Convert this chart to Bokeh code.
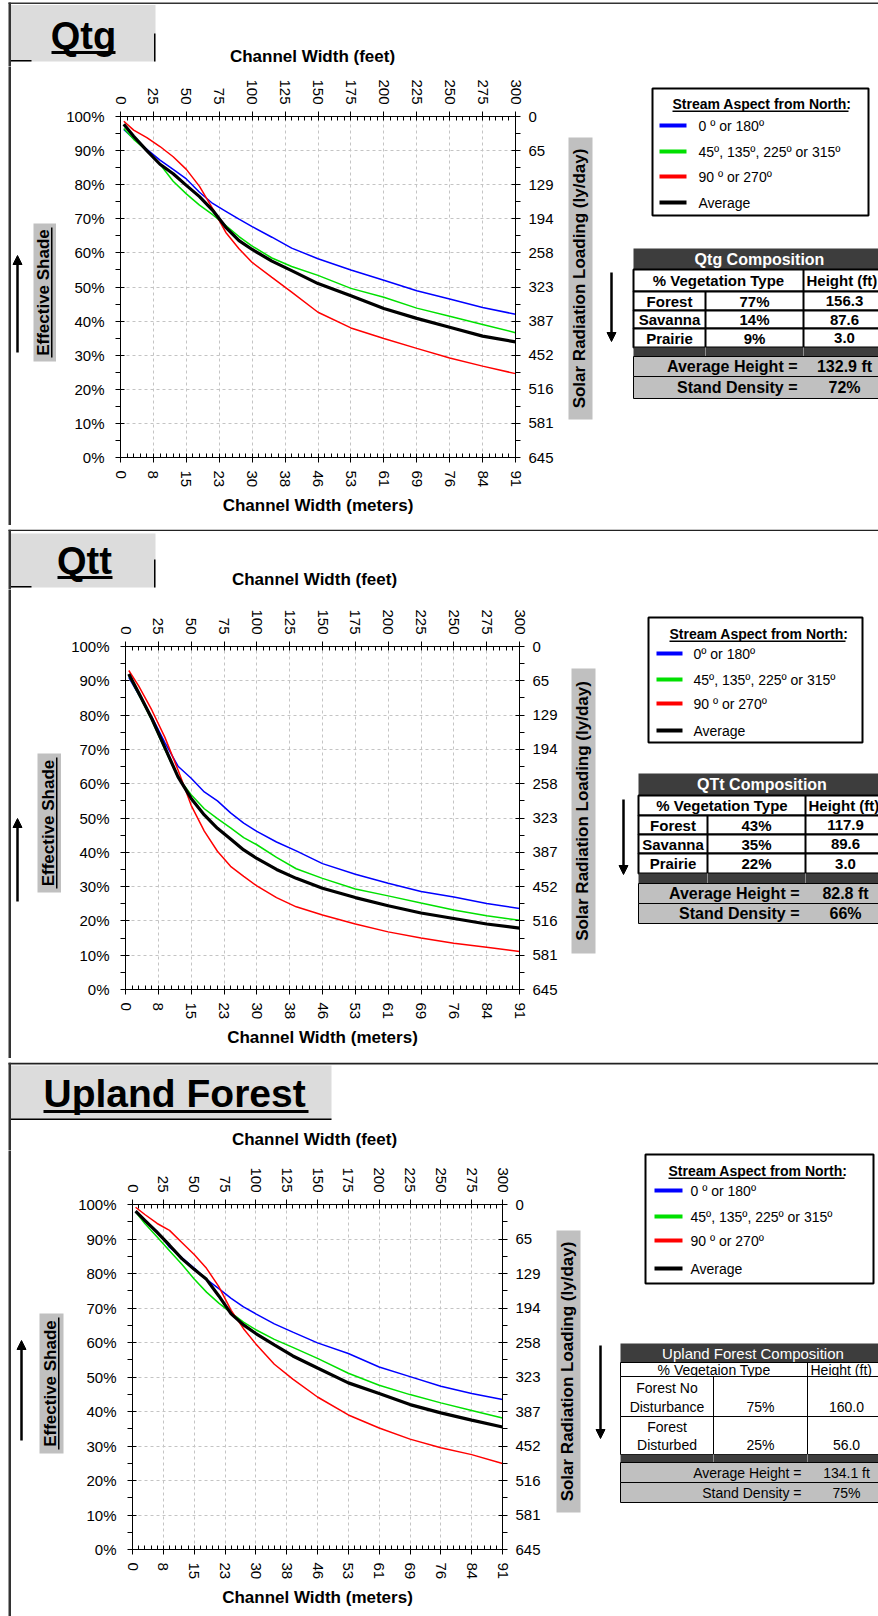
import math

from bokeh.core.properties import value
from bokeh.embed import file_html
from bokeh.layouts import column, row
from bokeh.models import (Arrow, FixedTicker, Grid, LinearAxis, NormalHead,
                          PrintfTickFormatter, Range1d)
from bokeh.plotting import figure
from bokeh.resources import INLINE

FONT = "Liberation Sans"
PAGE_W = 878

# ---------------------------------------------------------------- axes
feet_ticks = [0, 25, 50, 75, 100, 125, 150, 175, 200, 225, 250, 275, 300]
feet_minor = [f for f in range(0, 301, 5) if f % 25]
meter_labels = ["0", "8", "15", "23", "30", "38", "46", "53", "61", "69", "76", "84", "91"]
shade_ticks = [0, 10, 20, 30, 40, 50, 60, 70, 80, 90, 100]
shade_minor = [5, 15, 25, 35, 45, 55, 65, 75, 85, 95]
solar_labels = ["645", "581", "516", "452", "387", "323", "258", "194", "129", "65", "0"]

# ---------------------------------------------------------------- effective shade curves (%)
width_ft = [2.5, 10, 20, 30, 40, 50, 60, 70, 80, 90, 100, 115, 130, 150, 175, 200, 225, 250, 275, 300]

qtg_ns = [96.2, 93.5, 90.4, 87.2, 84.5, 81.7, 77.8, 74.5, 72.2, 69.9, 67.7, 64.6, 61.4, 58.3, 55.0, 52.0, 48.9, 46.5, 44.0, 42.0]
qtg_diag = [96.5, 93.3, 90.0, 86.0, 81.0, 77.3, 74.0, 71.2, 68.0, 64.8, 62.0, 58.5, 56.0, 53.4, 49.6, 47.0, 43.8, 41.4, 39.0, 36.6]
qtg_ew = [98.6, 96.0, 93.8, 91.2, 88.2, 84.5, 79.5, 73.0, 66.0, 61.2, 57.2, 52.8, 48.5, 42.6, 38.0, 34.9, 32.0, 29.2, 26.8, 24.6]
qtg_avg = [97.7, 94.2, 90.0, 86.0, 83.2, 79.8, 76.5, 72.5, 67.5, 63.6, 61.0, 57.6, 54.8, 51.0, 47.4, 43.7, 40.8, 38.2, 35.6, 33.9]

qtt_ns = [91.0, 86.0, 79.5, 72.0, 65.1, 61.6, 57.6, 55.0, 51.5, 48.5, 46.1, 43.0, 40.4, 36.7, 33.6, 31.0, 28.6, 27.0, 25.1, 23.6]
qtt_diag = [91.5, 86.0, 78.5, 70.0, 61.8, 56.8, 52.7, 49.8, 47.1, 44.3, 42.2, 38.5, 35.2, 32.4, 29.3, 27.3, 25.2, 23.2, 21.5, 20.2]
qtt_ew = [93.0, 88.5, 81.5, 73.5, 64.0, 53.7, 46.2, 40.3, 35.9, 33.0, 30.2, 26.8, 24.1, 21.7, 19.1, 16.8, 15.0, 13.5, 12.3, 11.1]
qtt_avg = [92.0, 86.5, 79.0, 70.5, 62.0, 55.7, 50.9, 47.0, 43.9, 40.7, 38.2, 35.0, 32.4, 29.5, 26.8, 24.4, 22.3, 20.7, 19.1, 17.9]

upl_ns = [97.8, 95.5, 92.2, 87.6, 84.6, 81.6, 78.3, 75.6, 72.8, 70.3, 68.3, 65.4, 63.0, 59.9, 56.8, 52.9, 50.1, 47.3, 45.2, 43.5]
upl_diag = [97.8, 94.5, 90.6, 86.6, 82.7, 78.4, 74.6, 71.4, 68.6, 65.9, 63.7, 60.9, 58.6, 55.4, 51.1, 47.6, 44.9, 42.5, 40.3, 38.1]
upl_ew = [99.2, 97.1, 94.5, 92.5, 89.0, 85.5, 81.5, 76.2, 69.3, 64.0, 59.6, 53.7, 49.4, 44.2, 39.0, 35.2, 32.0, 29.5, 27.5, 24.9]
upl_avg = [98.1, 95.4, 91.9, 88.2, 84.3, 81.2, 78.3, 73.5, 68.3, 65.1, 62.6, 59.3, 56.1, 52.6, 48.3, 45.2, 42.0, 39.6, 37.5, 35.5]

series_colors = ["#0000FF", "#00E000", "#FF0000", "#000000"]

# ---------------------------------------------------------------- legend and composition tables
legend_title = "Stream Aspect from North:"
qtg_legend = ["0 º or 180º", "45º, 135º, 225º or 315º", "90 º or 270º", "Average"]
qtt_legend = ["0º or 180º", "45º, 135º, 225º or 315º", "90 º or 270º", "Average"]
upl_legend = ["0 º or 180º", "45º, 135º, 225º or 315º", "90 º or 270º", "Average"]

qtg_types = ["Forest", "Savanna", "Prairie"]
qtg_pct = ["77%", "14%", "9%"]
qtg_height = ["156.3", "87.6", "3.0"]
qtg_avg_height = "132.9 ft"
qtg_density = "72%"

qtt_types = ["Forest", "Savanna", "Prairie"]
qtt_pct = ["43%", "35%", "22%"]
qtt_height = ["117.9", "89.6", "3.0"]
qtt_avg_height = "82.8 ft"
qtt_density = "66%"

upl_types = [("Forest No", "Disturbance"), ("Forest", "Disturbed")]
upl_pct = ["75%", "25%"]
upl_height = ["160.0", "56.0"]
upl_avg_height = "134.1 ft"
upl_density = "75%"


# ---------------------------------------------------------------- decoration sheets
class Panel:
    """A page band made of plain pixel-space sheets around one chart."""

    def __init__(self):
        self.sheets = []

    def sheet(self, x0, y0, x1, y1):
        p = figure(width=x1 - x0, height=y1 - y0, title=None,
                   x_range=Range1d(x0, x1), y_range=Range1d(y1, y0),
                   x_axis_type=None, y_axis_type=None,
                   output_backend="svg", toolbar_location=None,
                   min_border=0, min_border_left=0, min_border_right=0,
                   min_border_top=0, min_border_bottom=0, frame_align=False,
                   background_fill_color="white", border_fill_color="white",
                   outline_line_color=None)
        self.sheets.append((x0, y0, x1, y1, p))
        return p

    def box(self, l, t, r, b, fill=None, line=None, lw=1.0):
        for x0, y0, x1, y1, p in self.sheets:
            if r >= x0 - lw and l <= x1 + lw and b >= y0 - lw and t <= y1 + lw:
                p.quad(left=[l], right=[r], top=[t], bottom=[b],
                       fill_color=fill or "white", fill_alpha=1.0 if fill else 0.0,
                       line_color=line or "black", line_alpha=1.0 if line else 0.0,
                       line_width=lw)

    def text(self, x, y, s, size, bold=False, color="black", align="left", angle=0.0):
        for x0, y0, x1, y1, p in self.sheets:
            if x0 <= x < x1 and y0 <= y < y1:
                p.text(x=[x], y=[y], text=[s], text_font=value(FONT),
                       text_font_size=value(f"{size}px"),
                       text_font_style="bold" if bold else "normal",
                       text_color=color, text_align=align, text_baseline="middle",
                       angle=angle)

    def arrow(self, x, y_from, y_to):
        for x0, y0, x1, y1, p in self.sheets:
            if x0 <= x < x1 and y0 <= min(y_from, y_to) < y1:
                p.add_layout(Arrow(
                    x_start=x, y_start=y_from, x_end=x, y_end=y_to,
                    end=NormalHead(size=9, fill_color="black", line_color="black", line_width=1),
                    line_color="black", line_width=2.5))


def style_axis(ax):
    ax.axis_line_color = "black"
    ax.axis_line_width = 1
    ax.major_tick_line_color = "black"
    ax.minor_tick_line_color = "black"
    ax.major_label_text_font = FONT
    ax.major_label_text_font_size = "15px"
    ax.major_label_text_color = "black"
    ax.axis_label_text_font = FONT
    ax.axis_label_text_font_size = "17px"
    ax.axis_label_text_font_style = "bold"
    ax.axis_label_text_color = "black"


def chart(cfg):
    fl, ft, fr, fb = cfg["frame"]
    xl, xr, ya, yd = cfg["cut"]
    p = figure(width=xr - xl, height=yd - ya, title=None,
               x_range=Range1d(0, 300), y_range=Range1d(0, 100),
               x_axis_type=None, y_axis_type=None,
               output_backend="svg", toolbar_location=None,
               min_border_left=fl - xl, min_border_right=xr - fr,
               min_border_top=ft - ya, min_border_bottom=yd - fb, frame_align=False,
               background_fill_color="white", border_fill_color="white",
               outline_line_color=None)

    p.add_layout(Grid(dimension=0, ticker=FixedTicker(ticks=feet_ticks[1:-1]),
                      grid_line_color="#c4c4c4", grid_line_dash="3 3", grid_line_width=1))
    p.add_layout(Grid(dimension=1, ticker=FixedTicker(ticks=shade_ticks[1:-1]),
                      grid_line_color="#c4c4c4", grid_line_dash="3 3", grid_line_width=1))

    # channel width: feet above, meters below
    top = LinearAxis(ticker=FixedTicker(ticks=feet_ticks, minor_ticks=feet_minor),
                     major_label_orientation=-math.pi / 2,
                     major_tick_in=4, major_tick_out=5, minor_tick_in=4, minor_tick_out=0,
                     major_label_standoff=7)
    style_axis(top)
    p.add_layout(top, "above")

    bottom = LinearAxis(ticker=FixedTicker(ticks=feet_ticks, minor_ticks=feet_minor),
                        major_label_overrides={t: m for t, m in zip(feet_ticks, meter_labels)},
                        axis_label="Channel Width (meters)", major_label_orientation=-math.pi / 2,
                        major_tick_in=4, major_tick_out=5, minor_tick_in=4, minor_tick_out=0,
                        major_label_standoff=8, axis_label_standoff=6)
    style_axis(bottom)
    p.add_layout(bottom, "below")

    # effective shade (left) and the matching solar radiation loading (right)
    left = LinearAxis(ticker=FixedTicker(ticks=shade_ticks, minor_ticks=shade_minor),
                      formatter=PrintfTickFormatter(format="%d%%"),
                      major_tick_in=4, major_tick_out=5, minor_tick_in=0, minor_tick_out=5,
                      major_label_standoff=11)
    style_axis(left)
    p.add_layout(left, "left")

    right = LinearAxis(ticker=FixedTicker(ticks=shade_ticks, minor_ticks=shade_minor),
                       major_label_overrides={t: s for t, s in zip(shade_ticks, solar_labels)},
                       major_tick_in=4, major_tick_out=5, minor_tick_in=0, minor_tick_out=5,
                       major_label_standoff=8)
    style_axis(right)
    p.add_layout(right, "right")

    for ys, col in zip(cfg["series"], series_colors):
        p.line(width_ft, ys, line_color=col, line_width=3.2 if col == "#000000" else 1.5)
    return p


def draw_legend(pn, lg, labels):
    l, t, r, b = lg["box"]
    pn.box(l, t, r, b, fill="white", line="black", lw=2)
    pn.text(lg["title_x"], lg["title_y"], legend_title, 14, bold=True)
    pn.box(lg["title_x"], lg["title_y"] + 7, lg["title_x"] + 176, lg["title_y"] + 8.5, fill="black")
    sx0, sx1 = lg["sample"]
    for y, lab, col in zip(lg["rows"], labels, series_colors):
        pn.box(sx0, y - 2, sx1, y + 2, fill=col)
        pn.text(lg["text_x"], y, lab, 14)


def draw_table(pn, tb, types, pct, height, avg_h, density):
    x0, c1, c2, x1 = tb["cols"]
    rows = tb["rows"]
    bold = tb["bold"]
    lw = 2 if bold else 1
    fs = 15 if bold else 14
    dark = "#3d3d3d"
    # title bar
    pn.box(x0, rows[0], x1, rows[1], fill=dark)
    pn.text((x0 + x1) / 2, (rows[0] + rows[1]) / 2, tb["title"], fs + 1, bold=bold,
            color="white", align="center")
    # header
    pn.box(x0, rows[1], x1, rows[2], fill="white", line="black", lw=lw)
    pn.box(c2 - lw / 2, rows[1], c2 + lw / 2, rows[2], fill="black")
    pn.text((x0 + c2) / 2, (rows[1] + rows[2]) / 2, tb["veg_label"], fs, bold=bold, align="center")
    pn.text(c2 + 3, (rows[1] + rows[2]) / 2, "Height (ft)", fs, bold=bold)
    # body rows
    n = len(types)
    for i in range(n):
        top, bot = rows[2 + i], rows[3 + i]
        pn.box(x0, top, x1, bot, fill="white", line="black", lw=lw)
        pn.box(c1 - lw / 2, top, c1 + lw / 2, bot, fill="black")
        pn.box(c2 - lw / 2, top, c2 + lw / 2, bot, fill="black")
        if tb["two_line"]:
            y1, y2 = top + (bot - top) * 0.28, top + (bot - top) * 0.76
            pn.text((x0 + c1) / 2, y1, types[i][0], fs, bold=bold, align="center")
            pn.text((x0 + c1) / 2, y2, types[i][1], fs, bold=bold, align="center")
            yv = y2
        else:
            yv = (top + bot) / 2
            pn.text((x0 + c1) / 2, yv, types[i], fs, bold=bold, align="center")
        pn.text((c1 + c2) / 2, yv, pct[i], fs, bold=bold, align="center")
        pn.text((c2 + x1) / 2, yv, height[i], fs, bold=bold, align="center")
    # dark spacer row
    dt, db = rows[2 + n], rows[3 + n]
    pn.box(x0, dt, x1, db, fill=dark)
    pn.box(c1 - 0.5, dt, c1 + 0.5, db, fill="#8c8c8c")
    pn.box(c2 - 0.5, dt, c2 + 0.5, db, fill="#8c8c8c")
    # summary rows
    for k, (lab, val) in enumerate([("Average Height =", avg_h), ("Stand Density =", density)]):
        top, bot = rows[3 + n + k], rows[4 + n + k]
        pn.box(x0, top, x1, bot, fill="#c0c0c0", line="black", lw=1)
        sz = fs + 1 if bold else fs
        pn.text(c2 - 6, (top + bot) / 2, lab, sz, bold=bold, align="right")
        pn.text((c2 + x1) / 2, (top + bot) / 2, val, sz, bold=bold, align="center")


def build_panel(cfg):
    h = cfg["height"]
    xl, xr, ya, yd = cfg["cut"]
    pn = Panel()
    band_top = pn.sheet(0, 0, PAGE_W, ya)
    side_left = pn.sheet(0, ya, xl, yd)
    side_right = pn.sheet(xr, ya, PAGE_W, yd)
    band_bottom = pn.sheet(0, yd, PAGE_W, h) if yd < h else None

    for (l, t, r, b, c) in cfg["borders"]:
        pn.box(l, t, r, b, fill=c)

    # header box with the unit name
    hl, ht, hr, hb = cfg["header_box"]
    pn.box(hl, ht, hr, hb, fill="#dcdcdc")
    for (l, t, r, b) in cfg["header_lines"]:
        pn.box(l, t, r, b, fill="black")
    hx, hy, hsize, halign = cfg["header_text"]
    pn.text(hx, hy, cfg["name"], hsize, bold=True, align=halign)
    ul, ut, ur, ub = cfg["header_underline"]
    pn.box(ul, ut, ur, ub, fill="black")

    tx, ty = cfg["feet_title"]
    pn.text(tx, ty, "Channel Width (feet)", 17, bold=True, align="center")

    # side titles and arrows
    el, et, er, eb = cfg["shade_box"]
    pn.box(el, et, er, eb, fill="#c0c0c0")
    pn.text((el + er) / 2 - 1.5, (et + eb) / 2, "Effective Shade", 17, bold=True,
            align="center", angle=math.pi / 2)
    pn.box(er - 5.5, et + 4, er - 4, eb - 4, fill="black")
    ax, ay0, ay1 = cfg["up_arrow"]
    pn.arrow(ax, ay0, ay1)

    sl, st, sr, sb = cfg["solar_box"]
    pn.box(sl, st, sr, sb, fill="#c0c0c0")
    pn.text((sl + sr) / 2 - 1, (st + sb) / 2, "Solar Radiation Loading (ly/day)", 17, bold=True,
            align="center", angle=math.pi / 2)
    dx, dy0, dy1 = cfg["down_arrow"]
    pn.arrow(dx, dy0, dy1)

    draw_legend(pn, cfg["legend"], cfg["legend_labels"])
    draw_table(pn, cfg["table"], *cfg["table_data"])

    middle = row(side_left, chart(cfg), side_right, spacing=0)
    parts = [band_top, middle] + ([band_bottom] if band_bottom is not None else [])
    return column(*parts, spacing=0)


panels = [
    dict(
        name="Qtg", height=529, frame=(120, 116, 515, 457), cut=(56, 565, 66, 525),
        series=[qtg_ns, qtg_diag, qtg_ew, qtg_avg],
        borders=[(8, 2, 878, 3.5, "#333333"), (8, 2, 10.5, 529, "#333333"),
                 (8, 525, 878, 526.5, "#222222"), (8, 526.5, 878, 529, "#a8a8a8")],
        header_box=(10.5, 4.5, 155, 61), header_lines=[(10.5, 59.5, 31, 61), (153.5, 33, 155, 61)],
        header_text=(83, 35.5, 38, "center"), header_underline=(51, 50.5, 115, 53.5),
        feet_title=(312, 56),
        shade_box=(33, 223, 56, 361), up_arrow=(17, 352, 255),
        solar_box=(568, 137, 592, 419), down_arrow=(611, 272, 341),
        legend=dict(box=(652, 88, 868, 215), title_x=672, title_y=103, sample=(659, 686),
                    text_x=698, rows=[125, 151, 176, 202]),
        legend_labels=qtg_legend,
        table=dict(title="Qtg Composition", cols=(633, 705, 803, 885),
                   rows=[248, 269, 291, 310, 328, 347, 356, 376, 398],
                   veg_label="% Vegetation Type", bold=True, two_line=False),
        table_data=(qtg_types, qtg_pct, qtg_height, qtg_avg_height, qtg_density),
    ),
    dict(
        name="Qtt", height=533, frame=(125, 117, 519, 460), cut=(61, 569, 60, 529),
        series=[qtt_ns, qtt_diag, qtt_ew, qtt_avg],
        borders=[(8, 0, 878, 1.5, "#222222"), (8, 0, 10.5, 533, "#333333"),
                 (8, 529.5, 878, 531, "#222222"), (8, 531, 878, 533, "#a8a8a8")],
        header_box=(10.5, 4, 155, 58), header_lines=[(10.5, 56.5, 31, 58), (153.5, 30, 155, 58)],
        header_text=(84, 31.5, 38, "center"), header_underline=(57, 46.5, 112, 49.5),
        feet_title=(314, 50),
        shade_box=(37, 224, 61, 363), up_arrow=(17, 372, 289),
        solar_box=(571, 139, 595, 424), down_arrow=(623, 270, 345),
        legend=dict(box=(648, 88, 862, 213), title_x=669, title_y=104, sample=(656, 682),
                    text_x=693, rows=[124, 150, 174, 201]),
        legend_labels=qtt_legend,
        table=dict(title="QTt Composition", cols=(638, 707, 805, 885),
                   rows=[244, 266, 286, 305, 324, 344, 354, 374, 394],
                   veg_label="% Vegetation Type", bold=True, two_line=False),
        table_data=(qtt_types, qtt_pct, qtt_height, qtt_avg_height, qtt_density),
    ),
    dict(
        name="Upland Forest", height=554, frame=(132, 142, 502, 487), cut=(68, 552, 88, 554),
        series=[upl_ns, upl_diag, upl_ew, upl_avg],
        borders=[(8, 0, 878, 2, "#222222"), (8, 0, 10.5, 554, "#333333")],
        header_box=(10.5, 3, 331, 57), header_lines=[(10.5, 56, 331, 57.5)],
        header_text=(43, 30.5, 39, "left"), header_underline=(43, 47.5, 308, 50.5),
        feet_title=(314, 77),
        shade_box=(39, 251, 63, 391), up_arrow=(21, 378, 278),
        solar_box=(556, 168, 580, 450), down_arrow=(600, 283, 376),
        legend=dict(box=(645, 92, 873, 221), title_x=668, title_y=108, sample=(654, 682),
                    text_x=690, rows=[128, 154, 178, 206]),
        legend_labels=upl_legend,
        table=dict(title="Upland Forest Composition", cols=(620, 713, 807, 885),
                   rows=[281, 300, 314, 354, 392, 400, 420, 440],
                   veg_label="% Vegetaion Type", bold=False, two_line=True),
        table_data=(upl_types, upl_pct, upl_height, upl_avg_height, upl_density),
    ),
]

page = column(*[build_panel(c) for c in panels], spacing=0)

with open("out.html", "w") as f:
    f.write(file_html(page, INLINE, title="Effective Shade Curves"))
